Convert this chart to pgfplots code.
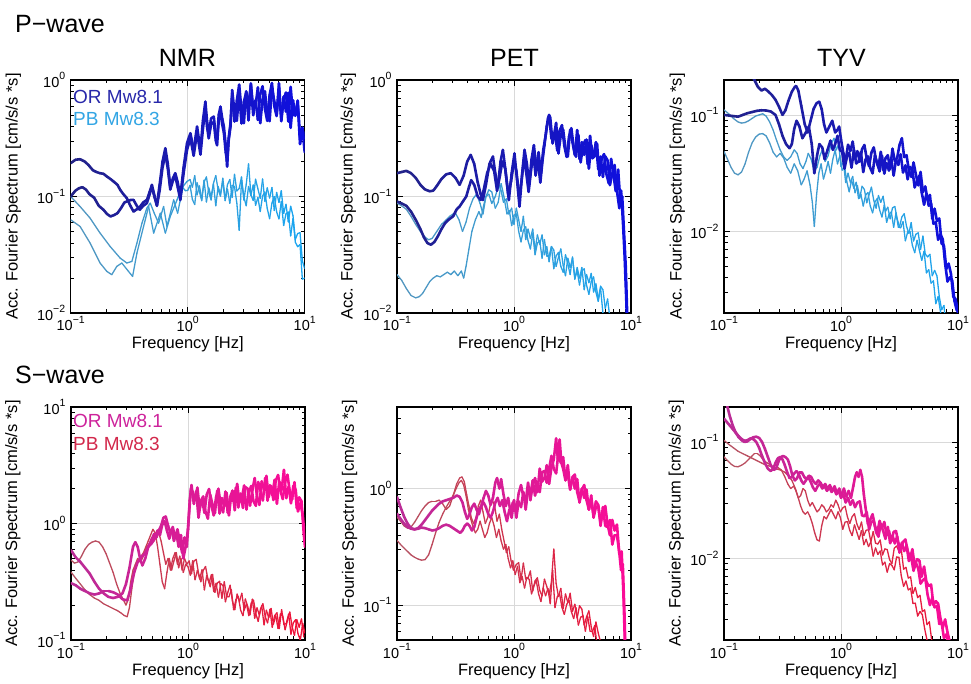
\documentclass[border=0pt]{standalone}
\usepackage{fontspec}
\setmainfont{Liberation Sans}
\usepackage{pgfplots}
\pgfplotsset{compat=1.18}
\newcommand{\sups}[1]{\raisebox{0.5em}{\fontsize{10.5}{12}\selectfont #1}}
\newcommand{\tl}[1]{10\sups{#1}}
\definecolor{legORP}{RGB}{40,40,170}
\definecolor{legPBP}{RGB}{50,165,228}
\definecolor{legORS}{RGB}{205,35,155}
\definecolor{legPBS}{RGB}{210,40,75}
\pgfplotsset{
  colormap={cmorP}{rgb255=(35,35,135) rgb255=(15,15,225)},
  colormap={cmpbP}{rgb255=(85,150,190) rgb255=(25,165,240)},
  colormap={cmorS}{rgb255=(185,45,150) rgb255=(252,10,150)},
  colormap={cmpbS}{rgb255=(180,85,100) rgb255=(240,15,55)},
  panel/.style={
    scale only axis, width=234pt, height=233pt,
    xmin=-1, xmax=1,
    xtick={-1,0,1}, xticklabels={\tl{−1},\tl{0},\tl{1}},
    minor xtick={-0.699,-0.523,-0.398,-0.301,-0.222,-0.155,-0.097,-0.046,0.301,0.477,0.602,0.699,0.778,0.845,0.903,0.954},
    minor ytick={-2.699,-2.523,-2.398,-2.301,-2.222,-2.155,-2.097,-2.046,-1.699,-1.523,-1.398,-1.301,-1.222,-1.155,-1.097,-1.046,-0.699,-0.523,-0.398,-0.301,-0.222,-0.155,-0.097,-0.046,0.301,0.477,0.602,0.699,0.778,0.845,0.903,0.954},
    grid=major, major grid style={line width=0.5pt, draw=gray!30},
    tick align=inside, major tick length=6pt, minor tick length=3.5pt,
    every tick/.style={black, line width=0.7pt},
    axis line style={line width=1.3pt},
    tick label style={font=\fontsize{14.5}{16}\selectfont},
    yticklabel style={xshift=-2pt},
    xlabel={Frequency [Hz]},
    every axis x label/.style={at={(axis description cs:0.5,0)}, anchor=base, yshift=-36pt, font=\fontsize{16.5}{18}\selectfont},
    ylabel={Acc. Fourier Spectrum [cm/s/s *s]},
    every axis y label/.style={at={(axis description cs:-0.22,0.5)}, rotate=90, anchor=center, font=\fontsize{16.5}{18}\selectfont},
    point meta min=-1, point meta max=1,
  },
  orP/.style={mesh, colormap name=cmorP, point meta=x, line width=2.6pt, line cap=round, line join=round},
  pbP/.style={mesh, colormap name=cmpbP, point meta=x, line width=1.3pt, line cap=round, line join=round},
  orS/.style={mesh, colormap name=cmorS, point meta=x, line width=2.6pt, line cap=round, line join=round},
  pbS/.style={mesh, colormap name=cmpbS, point meta=x, line width=1.3pt, line cap=round, line join=round},
}
\begin{document}
\begin{tikzpicture}[x=1pt,y=1pt]
\useasboundingbox (0,0) rectangle (971,684);
% ---------------- P-wave NMR
\begin{axis}[panel, at={(70.7pt,371pt)}, anchor=south west, ymin=-2, ymax=0,
  ytick={-2,-1,0}, yticklabels={\tl{−2},\tl{−1},\tl{0}},
  ylabel style={at={(axis description cs:-0.245,0.5)}}]
\addplot[pbP] coordinates {(-1,-1)(-0.92,-1.086)(-0.834,-1.186)(-0.749,-1.314)(-0.663,-1.429)(-0.577,-1.529)(-0.52,-1.571)(-0.477,-1.557)(-0.434,-1.4)(-0.391,-1.229)(-0.349,-1.1)(-0.32,-1.057)(-0.286,-1.143)(-0.249,-1.229)(-0.206,-1.086)(-0.177,-1.257)(-0.12,-1.029)(-0.086,-1.143)(-0.04,-0.914)(-0.006,-0.871)(0.02,-0.854)(0.04,-0.92)(0.06,-0.821)(0.08,-0.986)(0.1,-0.909)(0.12,-1.019)(0.14,-0.876)(0.16,-0.832)(0.18,-0.964)(0.2,-1.03)(0.22,-0.887)(0.24,-0.821)(0.26,-0.942)(0.28,-0.997)(0.3,-0.843)(0.32,-1.019)(0.34,-0.898)(0.36,-0.854)(0.38,-1.008)(0.4,-0.81)(0.42,-0.953)(0.44,-0.931)(0.46,-0.832)(0.48,-1.03)(0.5,-0.898)(0.52,-0.72)(0.54,-0.985)(0.56,-1.034)(0.58,-0.852)(0.6,-0.934)(0.62,-1.016)(0.64,-0.85)(0.66,-1.042)(0.68,-0.926)(0.7,-1.013)(0.72,-0.923)(0.74,-1.12)(0.76,-0.965)(0.78,-1.051)(0.8,-0.951)(0.82,-1.146)(0.84,-1.067)(0.86,-1.218)(0.88,-1.084)(0.9,-1.165)(0.92,-1.368)(0.94,-1.318)(0.96,-1.31)(0.98,-1.553)(1,-1.62)};
\addplot[pbP] coordinates {(-1,-1.2)(-0.92,-1.257)(-0.834,-1.4)(-0.749,-1.571)(-0.691,-1.643)(-0.649,-1.671)(-0.606,-1.6)(-0.563,-1.571)(-0.506,-1.643)(-0.471,-1.686)(-0.434,-1.486)(-0.377,-1.257)(-0.334,-1.086)(-0.291,-1.314)(-0.234,-1.143)(-0.191,-1.314)(-0.149,-1.171)(-0.091,-1.029)(-0.049,-0.914)(-0.02,-0.95)(0,-0.948)(0.02,-0.904)(0.04,-1.025)(0.06,-1.069)(0.08,-0.882)(0.1,-0.959)(0.12,-1.036)(0.14,-0.86)(0.16,-1.047)(0.18,-0.926)(0.2,-1.003)(0.22,-0.893)(0.24,-1.08)(0.26,-0.915)(0.28,-0.981)(0.3,-0.871)(0.32,-1.036)(0.34,-0.937)(0.36,-1.058)(0.38,-0.904)(0.4,-0.915)(0.42,-1.058)(0.44,-1.29)(0.46,-0.86)(0.48,-1.003)(0.5,-1.08)(0.52,-0.914)(0.54,-0.99)(0.56,-0.901)(0.58,-1.076)(0.6,-1.009)(0.62,-1.129)(0.64,-0.996)(0.66,-0.962)(0.68,-1.104)(0.7,-1.19)(0.72,-1.057)(0.74,-1.001)(0.76,-1.132)(0.78,-1.192)(0.8,-1.043)(0.82,-1.249)(0.84,-1.148)(0.86,-1.134)(0.88,-1.338)(0.9,-1.19)(0.92,-1.393)(0.94,-1.431)(0.96,-1.412)(0.98,-1.71)(1,-1.7)};
\addplot[orP] coordinates {(-1,-0.714)(-0.96,-0.685)(-0.92,-0.68)(-0.88,-0.7)(-0.849,-0.729)(-0.81,-0.775)(-0.78,-0.79)(-0.75,-0.8)(-0.72,-0.805)(-0.69,-0.829)(-0.66,-0.85)(-0.634,-0.871)(-0.6,-0.9)(-0.577,-0.943)(-0.55,-0.98)(-0.52,-1.014)(-0.49,-1.08)(-0.463,-1.129)(-0.435,-1.11)(-0.406,-1.086)(-0.38,-1.05)(-0.349,-1.03)(-0.325,-0.96)(-0.306,-0.9)(-0.285,-0.99)(-0.263,-1.07)(-0.24,-0.9)(-0.215,-0.7)(-0.191,-0.586)(-0.17,-0.72)(-0.149,-0.914)(-0.125,-0.84)(-0.106,-0.8)(-0.085,-0.88)(-0.063,-1)(-0.035,-0.75)(-0.006,-0.543)(0.023,-0.457)(0.051,-0.6)(0.08,-0.4)(0.109,-0.6)(0.13,-0.35)(0.151,-0.186)(0.165,-0.35)(0.18,-0.457)(0.2,-0.33)(0.223,-0.314)(0.24,-0.48)(0.251,-0.514)(0.265,-0.3)(0.28,-0.229)(0.295,-0.33)(0.309,-0.4)(0.325,-0.56)(0.337,-0.743)(0.35,-0.5)(0.366,-0.371)(0.38,-0.135)(0.4,-0.356)(0.42,-0.176)(0.44,-0.04)(0.46,-0.261)(0.48,-0.37)(0.5,-0.098)(0.52,-0.2)(0.54,-0.047)(0.56,-0.302)(0.58,-0.173)(0.6,-0.343)(0.62,-0.122)(0.64,-0.054)(0.66,-0.248)(0.68,-0.35)(0.7,-0.129)(0.72,-0.027)(0.74,-0.224)(0.76,-0.309)(0.78,-0.071)(0.8,-0.353)(0.82,-0.166)(0.84,-0.108)(0.86,-0.356)(0.88,-0.06)(0.9,-0.301)(0.92,-0.297)(0.94,-0.184)(0.96,-0.55)(0.98,-0.416)(1,-0.5)};
\addplot[orP] coordinates {(-1,-1)(-0.96,-0.95)(-0.929,-0.929)(-0.9,-0.92)(-0.87,-0.94)(-0.84,-0.98)(-0.8,-1.01)(-0.76,-1.08)(-0.72,-1.114)(-0.69,-1.15)(-0.66,-1.171)(-0.63,-1.16)(-0.6,-1.143)(-0.57,-1.1)(-0.54,-1.05)(-0.52,-1.043)(-0.49,-1.03)(-0.463,-1.029)(-0.435,-1.08)(-0.41,-1.114)(-0.38,-1.08)(-0.349,-1.057)(-0.325,-0.98)(-0.306,-0.92)(-0.285,-1)(-0.263,-1.08)(-0.24,-0.95)(-0.215,-0.75)(-0.191,-0.64)(-0.17,-0.76)(-0.149,-0.94)(-0.125,-0.86)(-0.106,-0.83)(-0.085,-0.92)(-0.063,-1.03)(-0.035,-0.8)(-0.006,-0.6)(0.023,-0.5)(0.051,-0.65)(0.08,-0.45)(0.109,-0.64)(0.13,-0.42)(0.151,-0.25)(0.165,-0.4)(0.18,-0.5)(0.2,-0.38)(0.223,-0.36)(0.24,-0.52)(0.251,-0.56)(0.265,-0.35)(0.28,-0.28)(0.295,-0.38)(0.309,-0.45)(0.325,-0.62)(0.337,-0.7)(0.35,-0.52)(0.366,-0.4)(0.38,-0.087)(0.4,-0.274)(0.42,-0.349)(0.44,-0.111)(0.46,-0.373)(0.48,-0.186)(0.5,-0.108)(0.52,-0.346)(0.54,-0.03)(0.56,-0.251)(0.58,-0.217)(0.6,-0.064)(0.62,-0.37)(0.64,-0.166)(0.66,-0.098)(0.68,-0.285)(0.7,-0.353)(0.72,-0.064)(0.74,-0.183)(0.76,-0.302)(0.78,-0.03)(0.8,-0.329)(0.82,-0.142)(0.84,-0.271)(0.86,-0.111)(0.88,-0.41)(0.9,-0.175)(0.92,-0.307)(0.94,-0.177)(0.96,-0.492)(0.98,-0.409)(1,-0.62)};
\end{axis}
% ---------------- P-wave PET
\begin{axis}[panel, at={(397pt,371pt)}, anchor=south west, ymin=-2, ymax=0,
  ytick={-2,-1,0}, yticklabels={\tl{−2},\tl{−1},\tl{0}},
  ylabel style={at={(axis description cs:-0.208,0.5)}}]
\addplot[pbP] coordinates {(-1,-1.057)(-0.96,-1.08)(-0.92,-1.11)(-0.88,-1.17)(-0.84,-1.24)(-0.8,-1.3)(-0.76,-1.35)(-0.73,-1.371)(-0.7,-1.36)(-0.66,-1.3)(-0.62,-1.24)(-0.58,-1.2)(-0.55,-1.17)(-0.52,-1.15)(-0.5,-1.143)(-0.47,-1.2)(-0.44,-1.3)(-0.41,-1.22)(-0.38,-1.1)(-0.35,-1.02)(-0.32,-0.98)(-0.29,-1.06)(-0.265,-1.15)(-0.24,-1)(-0.215,-0.943)(-0.19,-0.96)(-0.16,-1.1)(-0.135,-1.05)(-0.11,-0.89)(-0.09,-0.98)(-0.06,-1.15)(-0.04,-1.12)(-0.02,-1.25)(0,-1.16)(0.02,-1.15)(0.04,-1.3)(0.06,-1.39)(0.08,-1.29)(0.1,-1.26)(0.12,-1.38)(0.14,-1.45)(0.16,-1.32)(0.18,-1.5)(0.2,-1.4)(0.22,-1.38)(0.24,-1.53)(0.26,-1.37)(0.28,-1.51)(0.3,-1.51)(0.32,-1.43)(0.34,-1.62)(0.36,-1.51)(0.38,-1.48)(0.4,-1.6)(0.42,-1.65)(0.44,-1.5)(0.46,-1.58)(0.48,-1.67)(0.5,-1.52)(0.52,-1.71)(0.54,-1.61)(0.56,-1.7)(0.58,-1.61)(0.6,-1.8)(0.62,-1.67)(0.64,-1.74)(0.66,-1.66)(0.68,-1.82)(0.7,-1.75)(0.72,-1.88)(0.74,-1.77)(0.76,-1.8)(0.78,-1.96)(0.8,-1.88)(0.82,-2.05)};
\addplot[pbP] coordinates {(-1,-1.67)(-0.96,-1.72)(-0.92,-1.79)(-0.88,-1.85)(-0.84,-1.87)(-0.81,-1.86)(-0.78,-1.83)(-0.75,-1.78)(-0.72,-1.73)(-0.69,-1.7)(-0.66,-1.68)(-0.63,-1.69)(-0.6,-1.67)(-0.57,-1.65)(-0.54,-1.67)(-0.51,-1.64)(-0.48,-1.68)(-0.45,-1.64)(-0.43,-1.7)(-0.41,-1.6)(-0.385,-1.45)(-0.36,-1.3)(-0.33,-1.2)(-0.3,-1.13)(-0.28,-1.18)(-0.26,-1.08)(-0.24,-1)(-0.215,-0.98)(-0.19,-1.06)(-0.16,-1)(-0.13,-0.9)(-0.11,-0.95)(-0.09,-1.05)(-0.065,-1.02)(-0.045,-1.15)(-0.02,-1.1)(0,-1.24)(0.02,-1.1)(0.04,-1.2)(0.06,-1.3)(0.08,-1.17)(0.1,-1.37)(0.12,-1.28)(0.14,-1.36)(0.16,-1.28)(0.18,-1.46)(0.2,-1.33)(0.22,-1.41)(0.24,-1.33)(0.26,-1.5)(0.28,-1.43)(0.3,-1.56)(0.32,-1.43)(0.34,-1.46)(0.36,-1.6)(0.38,-1.52)(0.4,-1.45)(0.42,-1.59)(0.44,-1.68)(0.46,-1.53)(0.48,-1.61)(0.5,-1.53)(0.52,-1.7)(0.54,-1.64)(0.56,-1.76)(0.58,-1.64)(0.6,-1.62)(0.62,-1.76)(0.64,-1.84)(0.66,-1.73)(0.68,-1.69)(0.7,-1.82)(0.72,-1.9)(0.74,-1.79)(0.76,-2)(0.78,-2.1)};
\addplot[orP] coordinates {(-1,-0.8)(-0.96,-0.79)(-0.92,-0.78)(-0.88,-0.8)(-0.84,-0.84)(-0.8,-0.9)(-0.76,-0.94)(-0.72,-0.955)(-0.69,-0.95)(-0.66,-0.91)(-0.62,-0.85)(-0.58,-0.81)(-0.54,-0.8)(-0.5,-0.84)(-0.465,-0.9)(-0.43,-0.82)(-0.4,-0.7)(-0.37,-0.643)(-0.34,-0.72)(-0.31,-0.88)(-0.285,-0.98)(-0.266,-1.03)(-0.24,-0.9)(-0.21,-0.72)(-0.18,-0.657)(-0.16,-0.8)(-0.138,-0.914)(-0.115,-0.7)(-0.095,-0.6)(-0.07,-0.8)(-0.044,-1.03)(-0.02,-0.8)(0.004,-0.63)(0.025,-0.85)(0.047,-1.086)(0.07,-0.8)(0.09,-0.6)(0.11,-0.72)(0.13,-0.9)(0.15,-0.68)(0.17,-0.56)(0.19,-0.75)(0.21,-0.62)(0.23,-0.8)(0.25,-0.6)(0.27,-0.48)(0.29,-0.33)(0.3,-0.3)(0.31,-0.324)(0.33,-0.544)(0.35,-0.456)(0.37,-0.606)(0.39,-0.434)(0.41,-0.388)(0.43,-0.566)(0.45,-0.66)(0.47,-0.488)(0.49,-0.414)(0.51,-0.578)(0.53,-0.658)(0.55,-0.472)(0.57,-0.706)(0.59,-0.562)(0.61,-0.516)(0.63,-0.722)(0.65,-0.48)(0.67,-0.672)(0.69,-0.654)(0.71,-0.548)(0.73,-0.82)(0.75,-0.672)(0.77,-0.636)(0.79,-0.81)(0.81,-0.886)(0.83,-0.678)(0.85,-0.816)(0.87,-0.954)(0.89,-0.77)(0.91,-1.058)(0.925,-1)(0.94,-1.3)(0.955,-1.6)(0.97,-2.1)};
\addplot[orP] coordinates {(-1,-1.043)(-0.96,-1.06)(-0.92,-1.08)(-0.88,-1.13)(-0.84,-1.2)(-0.8,-1.28)(-0.77,-1.35)(-0.74,-1.4)(-0.71,-1.414)(-0.68,-1.39)(-0.65,-1.34)(-0.62,-1.28)(-0.59,-1.23)(-0.56,-1.2)(-0.52,-1.17)(-0.49,-1.11)(-0.465,-1.086)(-0.435,-1.04)(-0.408,-1)(-0.385,-0.92)(-0.366,-0.86)(-0.34,-0.9)(-0.31,-1)(-0.285,-1.03)(-0.26,-0.95)(-0.23,-0.8)(-0.2,-0.72)(-0.17,-0.78)(-0.145,-0.95)(-0.12,-0.82)(-0.1,-0.7)(-0.075,-0.76)(-0.05,-0.98)(-0.025,-0.87)(0,-0.7)(0.02,-0.78)(0.045,-1)(0.065,-0.86)(0.085,-0.68)(0.105,-0.8)(0.125,-0.96)(0.145,-0.78)(0.165,-0.64)(0.185,-0.82)(0.205,-0.7)(0.225,-0.88)(0.245,-0.68)(0.26,-0.56)(0.28,-0.4)(0.3,-0.31)(0.32,-0.502)(0.34,-0.484)(0.36,-0.368)(0.38,-0.63)(0.4,-0.472)(0.42,-0.426)(0.44,-0.59)(0.46,-0.656)(0.48,-0.428)(0.5,-0.536)(0.52,-0.644)(0.54,-0.43)(0.56,-0.678)(0.58,-0.534)(0.6,-0.642)(0.62,-0.512)(0.64,-0.76)(0.66,-0.56)(0.68,-0.654)(0.7,-0.534)(0.72,-0.764)(0.74,-0.658)(0.76,-0.832)(0.78,-0.656)(0.8,-0.69)(0.82,-0.902)(0.84,-0.802)(0.86,-0.73)(0.88,-0.952)(0.9,-1.1)(0.915,-0.95)(0.93,-1.2)(0.945,-1.5)(0.96,-1.9)(0.97,-2.2)};
\end{axis}
% ---------------- P-wave TYV
\begin{axis}[panel, at={(724pt,371pt)}, anchor=south west, ymin=-2.7, ymax=-0.7,
  ytick={-2,-1}, yticklabels={\tl{−2},\tl{−1}},
  ylabel style={at={(axis description cs:-0.199,0.5)}}]
\addplot[pbP] coordinates {(-1,-0.957)(-0.96,-0.99)(-0.92,-1.03)(-0.88,-1.06)(-0.85,-1.07)(-0.82,-1.065)(-0.79,-1.05)(-0.76,-1.03)(-0.73,-1.01)(-0.7,-1)(-0.67,-0.99)(-0.64,-1.01)(-0.61,-1.06)(-0.58,-1.13)(-0.55,-1.22)(-0.52,-1.3)(-0.49,-1.36)(-0.46,-1.39)(-0.43,-1.36)(-0.4,-1.3)(-0.375,-1.33)(-0.35,-1.42)(-0.325,-1.46)(-0.3,-1.4)(-0.28,-1.33)(-0.255,-1.38)(-0.23,-1.48)(-0.205,-1.45)(-0.18,-1.35)(-0.16,-1.3)(-0.135,-1.4)(-0.11,-1.35)(-0.085,-1.25)(-0.06,-1.2)(-0.04,-1.3)(-0.02,-1.25)(0,-1.444)(0.02,-1.404)(0.04,-1.58)(0.06,-1.5)(0.08,-1.578)(0.1,-1.528)(0.12,-1.668)(0.14,-1.606)(0.16,-1.714)(0.18,-1.612)(0.2,-1.64)(0.22,-1.754)(0.24,-1.684)(0.26,-1.62)(0.28,-1.734)(0.3,-1.8)(0.32,-1.692)(0.34,-1.75)(0.36,-1.698)(0.38,-1.828)(0.4,-1.792)(0.42,-1.892)(0.44,-1.798)(0.46,-1.786)(0.48,-1.892)(0.5,-1.96)(0.52,-1.876)(0.54,-1.848)(0.56,-1.956)(0.58,-2.016)(0.6,-1.924)(0.62,-2.082)(0.64,-2.024)(0.66,-2.012)(0.68,-2.154)(0.7,-2.04)(0.72,-2.194)(0.74,-2.218)(0.76,-2.196)(0.78,-2.38)(0.8,-2.334)(0.82,-2.382)(0.84,-2.56)(0.86,-2.672)(0.88,-2.636)(0.9,-2.85)};
\addplot[pbP] coordinates {(-1,-1.314)(-0.97,-1.38)(-0.94,-1.45)(-0.91,-1.5)(-0.88,-1.514)(-0.85,-1.49)(-0.82,-1.42)(-0.79,-1.32)(-0.76,-1.24)(-0.73,-1.19)(-0.7,-1.165)(-0.67,-1.16)(-0.64,-1.18)(-0.61,-1.24)(-0.58,-1.32)(-0.55,-1.36)(-0.52,-1.33)(-0.49,-1.37)(-0.46,-1.45)(-0.43,-1.5)(-0.4,-1.42)(-0.37,-1.48)(-0.34,-1.6)(-0.315,-1.55)(-0.29,-1.48)(-0.265,-1.6)(-0.245,-1.75)(-0.228,-1.957)(-0.21,-1.7)(-0.19,-1.5)(-0.17,-1.42)(-0.15,-1.55)(-0.13,-1.48)(-0.11,-1.4)(-0.09,-1.5)(-0.07,-1.38)(-0.05,-1.3)(-0.03,-1.42)(-0.01,-1.35)(0.01,-1.474)(0.03,-1.44)(0.05,-1.574)(0.07,-1.66)(0.09,-1.562)(0.11,-1.63)(0.13,-1.578)(0.15,-1.718)(0.17,-1.682)(0.19,-1.782)(0.21,-1.688)(0.23,-1.666)(0.25,-1.782)(0.27,-1.84)(0.29,-1.746)(0.31,-1.718)(0.33,-1.816)(0.35,-1.876)(0.37,-1.774)(0.39,-1.922)(0.41,-1.854)(0.43,-1.832)(0.45,-1.964)(0.47,-1.84)(0.49,-1.964)(0.51,-1.968)(0.53,-1.916)(0.55,-2.08)(0.57,-2.004)(0.59,-2.002)(0.61,-2.12)(0.63,-2.182)(0.65,-2.076)(0.67,-2.162)(0.69,-2.248)(0.71,-2.17)(0.73,-2.356)(0.75,-2.328)(0.77,-2.444)(0.79,-2.424)(0.81,-2.62)(0.83,-2.56)(0.85,-2.688)(0.87,-2.8)};
\addplot[orP] coordinates {(-0.78,-0.62)(-0.74,-0.7)(-0.71,-0.76)(-0.68,-0.79)(-0.65,-0.775)(-0.62,-0.8)(-0.59,-0.83)(-0.56,-0.87)(-0.53,-0.93)(-0.5,-1)(-0.475,-0.96)(-0.45,-0.88)(-0.42,-0.8)(-0.395,-0.76)(-0.384,-0.751)(-0.365,-0.79)(-0.34,-0.92)(-0.31,-1.08)(-0.285,-1.15)(-0.26,-1.05)(-0.235,-0.95)(-0.21,-0.9)(-0.186,-0.886)(-0.165,-0.95)(-0.145,-1.08)(-0.125,-1.15)(-0.1,-1.1)(-0.075,-1.05)(-0.05,-1.15)(-0.03,-1.13)(-0.016,-1.1)(0,-1.21)(0.02,-1.327)(0.04,-1.39)(0.06,-1.256)(0.08,-1.31)(0.1,-1.229)(0.12,-1.374)(0.14,-1.311)(0.16,-1.401)(0.18,-1.294)(0.2,-1.258)(0.22,-1.376)(0.24,-1.44)(0.26,-1.323)(0.28,-1.279)(0.3,-1.388)(0.32,-1.443)(0.34,-1.317)(0.36,-1.471)(0.38,-1.372)(0.4,-1.346)(0.42,-1.462)(0.44,-1.29)(0.46,-1.397)(0.48,-1.369)(0.5,-1.258)(0.52,-1.2)(0.54,-1.362)(0.56,-1.346)(0.58,-1.475)(0.6,-1.531)(0.62,-1.408)(0.64,-1.511)(0.66,-1.604)(0.68,-1.49)(0.7,-1.663)(0.72,-1.614)(0.74,-1.727)(0.76,-1.687)(0.78,-1.89)(0.8,-1.805)(0.82,-1.909)(0.84,-1.889)(0.86,-2.104)(0.88,-2.123)(0.9,-2.322)(0.92,-2.276)(0.94,-2.365)(0.96,-2.562)(0.98,-2.582)(1,-2.7)};
\addplot[orP] coordinates {(-1,-1)(-0.96,-1.005)(-0.92,-1.01)(-0.88,-1.015)(-0.84,-1)(-0.8,-0.985)(-0.76,-0.975)(-0.72,-0.965)(-0.68,-0.96)(-0.64,-0.962)(-0.6,-0.97)(-0.56,-1)(-0.53,-1.08)(-0.5,-1.18)(-0.47,-1.25)(-0.44,-1.286)(-0.42,-1.25)(-0.4,-1.12)(-0.38,-1.05)(-0.355,-1.1)(-0.33,-1.2)(-0.3,-1.15)(-0.275,-1.1)(-0.25,-1.25)(-0.228,-1.5)(-0.205,-1.35)(-0.185,-1.25)(-0.16,-1.28)(-0.14,-1.38)(-0.115,-1.3)(-0.09,-1.22)(-0.07,-1.3)(-0.05,-1.25)(-0.03,-1.18)(-0.01,-1.3)(0.01,-1.317)(0.03,-1.461)(0.05,-1.362)(0.07,-1.326)(0.09,-1.452)(0.11,-1.3)(0.13,-1.417)(0.15,-1.399)(0.17,-1.318)(0.19,-1.49)(0.21,-1.382)(0.23,-1.356)(0.25,-1.455)(0.27,-1.501)(0.29,-1.348)(0.31,-1.421)(0.33,-1.484)(0.35,-1.35)(0.37,-1.503)(0.39,-1.414)(0.41,-1.477)(0.43,-1.377)(0.45,-1.52)(0.47,-1.385)(0.49,-1.429)(0.51,-1.339)(0.53,-1.494)(0.55,-1.433)(0.57,-1.552)(0.59,-1.446)(0.61,-1.475)(0.63,-1.622)(0.65,-1.562)(0.67,-1.52)(0.69,-1.667)(0.71,-1.77)(0.73,-1.676)(0.75,-1.78)(0.77,-1.759)(0.79,-1.934)(0.81,-1.921)(0.83,-2.071)(0.85,-2.024)(0.87,-2.068)(0.89,-2.276)(0.91,-2.43)(0.93,-2.393)(0.95,-2.419)(0.97,-2.598)(0.99,-2.68)};
\end{axis}
% ---------------- S-wave NMR
\begin{axis}[panel, at={(71pt,44pt)}, anchor=south west, ymin=-1, ymax=1,
  ytick={-1,0,1}, yticklabels={\tl{−1},\tl{0},\tl{1}},
  ylabel style={at={(axis description cs:-0.249,0.5)}}]
\addplot[pbS] coordinates {(-1,-0.314)(-0.97,-0.34)(-0.94,-0.33)(-0.91,-0.28)(-0.88,-0.22)(-0.85,-0.18)(-0.82,-0.16)(-0.79,-0.15)(-0.76,-0.16)(-0.73,-0.2)(-0.7,-0.26)(-0.67,-0.34)(-0.64,-0.42)(-0.61,-0.52)(-0.58,-0.6)(-0.555,-0.65)(-0.53,-0.7)(-0.51,-0.65)(-0.49,-0.5)(-0.47,-0.4)(-0.45,-0.35)(-0.43,-0.3)(-0.41,-0.33)(-0.39,-0.3)(-0.37,-0.25)(-0.35,-0.2)(-0.33,-0.17)(-0.31,-0.12)(-0.29,-0.15)(-0.27,-0.1)(-0.25,-0.08)(-0.23,-0.15)(-0.21,-0.25)(-0.19,-0.35)(-0.17,-0.3)(-0.15,-0.4)(-0.13,-0.3)(-0.11,-0.25)(-0.09,-0.35)(-0.07,-0.28)(-0.05,-0.4)(-0.03,-0.3)(-0.01,-0.35)(0.01,-0.321)(0.03,-0.431)(0.05,-0.324)(0.07,-0.308)(0.09,-0.426)(0.11,-0.5)(0.13,-0.403)(0.15,-0.369)(0.17,-0.478)(0.19,-0.543)(0.21,-0.437)(0.23,-0.591)(0.25,-0.512)(0.27,-0.496)(0.29,-0.642)(0.31,-0.5)(0.33,-0.627)(0.35,-0.629)(0.37,-0.568)(0.39,-0.74)(0.41,-0.652)(0.43,-0.626)(0.45,-0.745)(0.47,-0.791)(0.49,-0.648)(0.51,-0.711)(0.53,-0.784)(0.55,-0.65)(0.57,-0.813)(0.59,-0.724)(0.61,-0.787)(0.63,-0.707)(0.65,-0.87)(0.67,-0.745)(0.69,-0.809)(0.71,-0.729)(0.73,-0.864)(0.75,-0.793)(0.77,-0.902)(0.79,-0.776)(0.81,-0.795)(0.83,-0.912)(0.85,-0.832)(0.87,-0.76)(0.89,-0.887)(0.91,-0.96)(0.93,-0.826)(0.95,-0.89)(0.97,-0.819)(0.99,-0.974)};
\addplot[pbS] coordinates {(-1,-0.417)(-0.96,-0.47)(-0.92,-0.52)(-0.88,-0.57)(-0.84,-0.61)(-0.8,-0.64)(-0.76,-0.66)(-0.72,-0.69)(-0.68,-0.71)(-0.64,-0.73)(-0.6,-0.75)(-0.57,-0.77)(-0.545,-0.79)(-0.52,-0.8)(-0.5,-0.72)(-0.48,-0.56)(-0.46,-0.42)(-0.44,-0.35)(-0.42,-0.32)(-0.4,-0.28)(-0.38,-0.25)(-0.36,-0.2)(-0.34,-0.15)(-0.32,-0.1)(-0.3,-0.05)(-0.28,-0.08)(-0.26,-0.2)(-0.24,-0.35)(-0.22,-0.5)(-0.2,-0.56)(-0.18,-0.42)(-0.16,-0.3)(-0.14,-0.4)(-0.12,-0.32)(-0.1,-0.25)(-0.08,-0.38)(-0.06,-0.3)(-0.04,-0.42)(-0.02,-0.35)(0,-0.371)(0.02,-0.444)(0.04,-0.32)(0.06,-0.483)(0.08,-0.404)(0.1,-0.477)(0.12,-0.397)(0.14,-0.57)(0.16,-0.445)(0.18,-0.509)(0.2,-0.439)(0.22,-0.584)(0.24,-0.513)(0.26,-0.632)(0.28,-0.516)(0.3,-0.535)(0.32,-0.672)(0.34,-0.592)(0.36,-0.53)(0.38,-0.667)(0.4,-0.74)(0.42,-0.606)(0.44,-0.67)(0.46,-0.599)(0.48,-0.744)(0.5,-0.691)(0.52,-0.791)(0.54,-0.684)(0.56,-0.658)(0.58,-0.776)(0.6,-0.84)(0.62,-0.733)(0.64,-0.689)(0.66,-0.798)(0.68,-0.853)(0.7,-0.737)(0.72,-0.891)(0.74,-0.792)(0.76,-0.766)(0.78,-0.902)(0.8,-0.74)(0.82,-0.867)(0.84,-0.859)(0.86,-0.778)(0.88,-0.95)(0.9,-0.852)(0.92,-0.826)(0.94,-0.945)(0.96,-1.001)(0.98,-0.858)(1,-0.941)};
\addplot[orS] coordinates {(-1,-0.229)(-0.96,-0.29)(-0.92,-0.33)(-0.88,-0.38)(-0.84,-0.43)(-0.8,-0.5)(-0.76,-0.56)(-0.72,-0.6)(-0.68,-0.63)(-0.64,-0.64)(-0.6,-0.63)(-0.56,-0.6)(-0.53,-0.52)(-0.5,-0.38)(-0.47,-0.2)(-0.45,-0.16)(-0.43,-0.2)(-0.41,-0.3)(-0.39,-0.36)(-0.365,-0.3)(-0.34,-0.2)(-0.315,-0.15)(-0.29,-0.09)(-0.27,-0.12)(-0.25,-0.06)(-0.23,-0.02)(-0.21,0.05)(-0.19,0.06)(-0.17,-0.02)(-0.15,-0.08)(-0.13,-0.03)(-0.11,-0.12)(-0.09,-0.05)(-0.07,-0.15)(-0.05,-0.25)(-0.03,-0.12)(-0.01,-0.2)(0.01,0.1)(0.025,0.3)(0.04,0.272)(0.06,0.2)(0.08,0.308)(0.1,0.128)(0.12,0.212)(0.14,0.092)(0.16,0.248)(0.18,0.296)(0.2,0.152)(0.22,0.07)(0.24,0.226)(0.26,0.298)(0.28,0.156)(0.3,0.096)(0.32,0.274)(0.34,0.092)(0.36,0.224)(0.38,0.282)(0.4,0.114)(0.42,0.34)(0.44,0.184)(0.46,0.218)(0.48,0.326)(0.5,0.12)(0.52,0.264)(0.54,0.322)(0.56,0.19)(0.58,0.152)(0.6,0.356)(0.62,0.282)(0.64,0.198)(0.66,0.39)(0.68,0.196)(0.7,0.328)(0.72,0.244)(0.74,0.374)(0.76,0.17)(0.78,0.36)(0.8,0.288)(0.82,0.46)(0.84,0.218)(0.86,0.316)(0.88,0.174)(0.9,0.322)(0.92,0.29)(0.94,0.104)(0.96,0.174)(0.98,0.08)(1,-0.15)};
\addplot[orS] coordinates {(-1,-0.512)(-0.96,-0.53)(-0.92,-0.56)(-0.88,-0.58)(-0.84,-0.6)(-0.8,-0.61)(-0.76,-0.6)(-0.72,-0.58)(-0.68,-0.58)(-0.64,-0.59)(-0.6,-0.61)(-0.56,-0.65)(-0.52,-0.66)(-0.49,-0.56)(-0.46,-0.42)(-0.43,-0.33)(-0.4,-0.29)(-0.37,-0.26)(-0.34,-0.2)(-0.31,-0.17)(-0.285,-0.13)(-0.26,-0.06)(-0.24,-0.1)(-0.22,-0.01)(-0.2,0.02)(-0.18,-0.06)(-0.16,-0.13)(-0.14,-0.05)(-0.12,-0.15)(-0.1,-0.08)(-0.08,-0.2)(-0.06,-0.1)(-0.04,-0.3)(-0.02,-0.2)(0,-0.05)(0.015,0.2)(0.03,0.33)(0.05,0.168)(0.07,0.276)(0.09,0.05)(0.11,0.194)(0.13,0.232)(0.15,0.1)(0.17,0.042)(0.19,0.246)(0.21,0.162)(0.23,0.088)(0.25,0.28)(0.27,0.086)(0.29,0.218)(0.31,0.144)(0.33,0.264)(0.35,0.07)(0.37,0.25)(0.39,0.188)(0.41,0.308)(0.43,0.138)(0.45,0.256)(0.47,0.134)(0.49,0.312)(0.51,0.3)(0.53,0.154)(0.55,0.284)(0.57,0.39)(0.59,0.234)(0.61,0.16)(0.63,0.362)(0.65,0.29)(0.67,0.408)(0.69,0.228)(0.71,0.322)(0.73,0.202)(0.75,0.368)(0.77,0.416)(0.79,0.282)(0.81,0.21)(0.83,0.356)(0.85,0.418)(0.87,0.276)(0.89,0.206)(0.91,0.354)(0.93,0.132)(0.95,0.224)(0.97,0.192)(0.99,-0.096)(1,-0.2)};
\end{axis}
% ---------------- S-wave PET
\begin{axis}[panel, at={(397pt,44pt)}, anchor=south west, ymin=-1.3, ymax=0.7,
  ytick={-1,0}, yticklabels={\tl{−1},\tl{0}},
  ylabel style={at={(axis description cs:-0.203,0.5)}}]
\addplot[pbS] coordinates {(-1,-0.244)(-0.97,-0.28)(-0.94,-0.32)(-0.91,-0.34)(-0.88,-0.33)(-0.85,-0.29)(-0.82,-0.24)(-0.79,-0.19)(-0.76,-0.15)(-0.73,-0.12)(-0.7,-0.11)(-0.67,-0.11)(-0.64,-0.1)(-0.61,-0.13)(-0.58,-0.18)(-0.55,-0.15)(-0.52,-0.06)(-0.49,0.04)(-0.465,0.09)(-0.445,0.1)(-0.425,0.06)(-0.405,-0.05)(-0.385,-0.15)(-0.365,-0.25)(-0.345,-0.3)(-0.325,-0.25)(-0.305,-0.15)(-0.285,-0.1)(-0.265,-0.2)(-0.245,-0.3)(-0.225,-0.25)(-0.205,-0.15)(-0.185,-0.1)(-0.165,-0.15)(-0.145,-0.28)(-0.125,-0.22)(-0.105,-0.35)(-0.085,-0.45)(-0.065,-0.55)(-0.045,-0.5)(-0.025,-0.62)(-0.005,-0.7)(0.02,-0.652)(0.04,-0.636)(0.06,-0.782)(0.08,-0.64)(0.1,-0.777)(0.12,-0.769)(0.14,-0.708)(0.16,-0.88)(0.18,-0.792)(0.2,-0.766)(0.22,-0.875)(0.24,-0.921)(0.26,-0.778)(0.28,-0.841)(0.3,-0.914)(0.32,-0.8)(0.34,-0.52)(0.36,-0.814)(0.38,-0.927)(0.4,-0.857)(0.42,-1.03)(0.44,-0.905)(0.46,-0.979)(0.48,-0.899)(0.5,-1.054)(0.52,-0.993)(0.54,-1.112)(0.56,-1.006)(0.58,-1.035)(0.6,-1.172)(0.62,-1.102)(0.64,-1.05)(0.66,-1.187)(0.68,-1.27)(0.7,-1.146)(0.72,-1.24)(0.74,-1.32)};
\addplot[pbS] coordinates {(-1,-0.445)(-0.97,-0.48)(-0.94,-0.51)(-0.91,-0.54)(-0.88,-0.57)(-0.85,-0.59)(-0.82,-0.605)(-0.79,-0.615)(-0.76,-0.61)(-0.73,-0.57)(-0.7,-0.48)(-0.67,-0.38)(-0.64,-0.29)(-0.61,-0.22)(-0.58,-0.16)(-0.55,-0.11)(-0.52,-0.06)(-0.495,0)(-0.47,0.05)(-0.45,0.07)(-0.43,0.03)(-0.41,-0.06)(-0.39,-0.18)(-0.37,-0.26)(-0.35,-0.33)(-0.33,-0.38)(-0.31,-0.35)(-0.29,-0.28)(-0.27,-0.35)(-0.25,-0.42)(-0.23,-0.38)(-0.21,-0.3)(-0.19,-0.25)(-0.17,-0.32)(-0.15,-0.42)(-0.13,-0.35)(-0.11,-0.45)(-0.09,-0.52)(-0.07,-0.48)(-0.05,-0.6)(-0.03,-0.68)(-0.01,-0.62)(0.01,-0.738)(0.03,-0.668)(0.05,-0.808)(0.07,-0.756)(0.09,-0.854)(0.11,-0.762)(0.13,-0.78)(0.15,-0.904)(0.17,-0.834)(0.19,-0.79)(0.21,-0.904)(0.23,-0.97)(0.25,-0.852)(0.27,-0.92)(0.29,-0.858)(0.31,-0.988)(0.33,-0.7)(0.35,-1.022)(0.37,-0.928)(0.39,-0.906)(0.41,-1.022)(0.43,-1.08)(0.45,-0.996)(0.47,-0.958)(0.49,-1.056)(0.51,-1.116)(0.53,-1.024)(0.55,-1.172)(0.57,-1.104)(0.59,-1.092)(0.61,-1.224)(0.63,-1.1)(0.65,-1.224)(0.67,-1.228)(0.69,-1.176)(0.71,-1.35)(0.73,-1.36)};
\addplot[orS] coordinates {(-1,-0.072)(-0.97,-0.16)(-0.94,-0.24)(-0.91,-0.3)(-0.88,-0.34)(-0.85,-0.35)(-0.82,-0.34)(-0.79,-0.31)(-0.76,-0.27)(-0.73,-0.23)(-0.7,-0.19)(-0.67,-0.16)(-0.64,-0.13)(-0.61,-0.11)(-0.58,-0.1)(-0.55,-0.09)(-0.52,-0.08)(-0.49,-0.06)(-0.465,-0.07)(-0.44,-0.12)(-0.42,-0.2)(-0.4,-0.26)(-0.38,-0.22)(-0.36,-0.16)(-0.34,-0.13)(-0.32,-0.18)(-0.3,-0.22)(-0.28,-0.15)(-0.26,-0.08)(-0.24,-0.02)(-0.22,-0.06)(-0.2,-0.14)(-0.18,-0.08)(-0.16,0.05)(-0.145,0.09)(-0.125,0)(-0.11,0.08)(-0.09,-0.05)(-0.07,-0.15)(-0.05,-0.08)(-0.03,-0.2)(-0.01,-0.12)(0.02,-0.18)(0.04,-0.04)(0.06,0.03)(0.08,-0.07)(0.1,-0.11)(0.12,0.05)(0.14,-0.1)(0.16,0.03)(0.18,0.09)(0.2,-0.03)(0.22,0.17)(0.24,0.06)(0.26,0.09)(0.28,0.2)(0.3,0.04)(0.32,0.18)(0.34,0.25)(0.36,0.43)(0.375,0.25)(0.39,0.42)(0.405,0.22)(0.42,0.17)(0.44,0.07)(0.46,0.2)(0.48,0)(0.5,0.09)(0.52,0)(0.54,0.08)(0.56,-0.12)(0.58,0)(0.6,-0.08)(0.62,-0.01)(0.64,-0.18)(0.66,-0.1)(0.68,-0.23)(0.7,-0.11)(0.72,-0.14)(0.74,-0.29)(0.76,-0.21)(0.78,-0.15)(0.8,-0.31)(0.82,-0.4)(0.84,-0.27)(0.86,-0.36)(0.88,-0.31)(0.9,-0.56)(0.92,-0.54)(0.935,-0.9)(0.95,-1.4)};
\addplot[orS] coordinates {(-1,-0.216)(-0.97,-0.26)(-0.94,-0.3)(-0.91,-0.33)(-0.88,-0.345)(-0.85,-0.35)(-0.82,-0.345)(-0.79,-0.335)(-0.76,-0.34)(-0.73,-0.35)(-0.7,-0.36)(-0.67,-0.355)(-0.64,-0.34)(-0.61,-0.32)(-0.58,-0.31)(-0.55,-0.32)(-0.52,-0.34)(-0.49,-0.36)(-0.46,-0.38)(-0.44,-0.36)(-0.42,-0.32)(-0.4,-0.3)(-0.38,-0.32)(-0.36,-0.36)(-0.34,-0.33)(-0.32,-0.25)(-0.3,-0.18)(-0.28,-0.15)(-0.26,-0.12)(-0.24,-0.16)(-0.22,-0.22)(-0.2,-0.25)(-0.18,-0.2)(-0.16,-0.12)(-0.14,-0.08)(-0.12,-0.15)(-0.1,-0.1)(-0.08,-0.2)(-0.06,-0.28)(-0.04,-0.18)(-0.02,-0.25)(0,-0.1)(0.02,-0.25)(0.04,-0.11)(0.06,-0.16)(0.08,-0.03)(0.1,-0.18)(0.12,-0.01)(0.14,-0.05)(0.16,0.07)(0.18,-0.06)(0.2,0.05)(0.22,-0.03)(0.24,0.14)(0.26,0.15)(0.28,0.05)(0.3,0.17)(0.32,0.28)(0.34,0.17)(0.36,0.13)(0.38,0.31)(0.4,0.22)(0.42,0.27)(0.44,0.08)(0.46,0.12)(0.48,-0.01)(0.5,0.1)(0.52,0.12)(0.54,-0.03)(0.56,-0.11)(0.58,-0.01)(0.6,0.03)(0.62,-0.1)(0.64,-0.18)(0.66,-0.06)(0.68,-0.25)(0.7,-0.16)(0.72,-0.15)(0.74,-0.32)(0.76,-0.16)(0.78,-0.32)(0.8,-0.33)(0.82,-0.27)(0.84,-0.48)(0.86,-0.4)(0.88,-0.4)(0.9,-0.55)(0.915,-0.7)(0.93,-0.65)(0.945,-1.1)(0.955,-1.5)};
\end{axis}
% ---------------- S-wave TYV
\begin{axis}[panel, at={(724pt,44pt)}, anchor=south west, ymin=-2.7, ymax=-0.7,
  ytick={-2,-1}, yticklabels={\tl{−2},\tl{−1}},
  ylabel style={at={(axis description cs:-0.204,0.5)}}]
\addplot[pbS] coordinates {(-1,-0.986)(-0.96,-1.02)(-0.92,-1.05)(-0.88,-1.08)(-0.84,-1.1)(-0.8,-1.12)(-0.76,-1.14)(-0.72,-1.16)(-0.68,-1.18)(-0.64,-1.2)(-0.6,-1.21)(-0.56,-1.23)(-0.52,-1.24)(-0.48,-1.26)(-0.45,-1.29)(-0.42,-1.33)(-0.39,-1.4)(-0.365,-1.48)(-0.345,-1.46)(-0.325,-1.4)(-0.305,-1.42)(-0.285,-1.5)(-0.265,-1.55)(-0.245,-1.52)(-0.225,-1.56)(-0.205,-1.6)(-0.185,-1.58)(-0.165,-1.54)(-0.145,-1.56)(-0.125,-1.6)(-0.105,-1.58)(-0.085,-1.54)(-0.065,-1.56)(-0.045,-1.5)(-0.025,-1.54)(-0.005,-1.6)(0.015,-1.566)(0.035,-1.552)(0.055,-1.644)(0.075,-1.7)(0.095,-1.642)(0.115,-1.616)(0.135,-1.702)(0.155,-1.752)(0.175,-1.688)(0.195,-1.804)(0.215,-1.758)(0.235,-1.754)(0.255,-1.858)(0.275,-1.77)(0.295,-1.868)(0.315,-1.876)(0.335,-1.842)(0.355,-1.97)(0.375,-1.918)(0.395,-1.924)(0.415,-2.01)(0.435,-2.044)(0.455,-1.912)(0.475,-1.894)(0.495,-1.936)(0.515,-1.92)(0.535,-2.092)(0.555,-2.076)(0.575,-2.168)(0.595,-2.158)(0.615,-2.3)(0.635,-2.25)(0.655,-2.336)(0.675,-2.316)(0.695,-2.456)(0.715,-2.442)(0.735,-2.568)(0.755,-2.544)(0.775,-2.7)};
\addplot[pbS] coordinates {(-1,-1.128)(-0.97,-1.16)(-0.94,-1.19)(-0.91,-1.21)(-0.88,-1.213)(-0.85,-1.2)(-0.82,-1.18)(-0.79,-1.15)(-0.76,-1.12)(-0.74,-1.1)(-0.715,-1.1)(-0.69,-1.12)(-0.66,-1.16)(-0.63,-1.18)(-0.6,-1.2)(-0.57,-1.22)(-0.54,-1.22)(-0.51,-1.24)(-0.48,-1.3)(-0.455,-1.36)(-0.43,-1.4)(-0.405,-1.38)(-0.385,-1.42)(-0.365,-1.48)(-0.345,-1.55)(-0.325,-1.6)(-0.305,-1.62)(-0.285,-1.6)(-0.265,-1.64)(-0.245,-1.7)(-0.225,-1.78)(-0.205,-1.84)(-0.185,-1.85)(-0.165,-1.72)(-0.145,-1.64)(-0.125,-1.66)(-0.105,-1.62)(-0.085,-1.58)(-0.065,-1.62)(-0.045,-1.66)(-0.025,-1.6)(-0.005,-1.65)(0.015,-1.75)(0.035,-1.688)(0.055,-1.684)(0.075,-1.76)(0.095,-1.804)(0.115,-1.712)(0.135,-1.774)(0.155,-1.836)(0.175,-1.76)(0.195,-1.882)(0.215,-1.836)(0.235,-1.898)(0.255,-1.858)(0.275,-1.98)(0.295,-1.91)(0.315,-1.966)(0.335,-1.936)(0.355,-2.056)(0.375,-2.032)(0.395,-2.118)(0.415,-2.044)(0.435,-2.06)(0.455,-2.098)(0.475,-1.988)(0.495,-1.99)(0.515,-2.148)(0.535,-2.24)(0.555,-2.194)(0.575,-2.27)(0.595,-2.256)(0.615,-2.386)(0.635,-2.384)(0.655,-2.494)(0.675,-2.456)(0.695,-2.482)(0.715,-2.604)(0.735,-2.7)(0.755,-2.76)};
\addplot[orS] coordinates {(-1,-0.55)(-0.975,-0.68)(-0.95,-0.78)(-0.925,-0.86)(-0.9,-0.92)(-0.875,-0.96)(-0.85,-0.985)(-0.825,-1)(-0.8,-0.995)(-0.775,-0.975)(-0.75,-0.96)(-0.725,-0.955)(-0.7,-0.965)(-0.675,-1)(-0.65,-1.06)(-0.625,-1.13)(-0.6,-1.2)(-0.575,-1.24)(-0.555,-1.23)(-0.535,-1.17)(-0.515,-1.13)(-0.495,-1.12)(-0.475,-1.13)(-0.455,-1.15)(-0.435,-1.21)(-0.415,-1.29)(-0.395,-1.33)(-0.375,-1.31)(-0.355,-1.26)(-0.335,-1.26)(-0.315,-1.3)(-0.295,-1.32)(-0.275,-1.29)(-0.255,-1.3)(-0.235,-1.34)(-0.215,-1.36)(-0.195,-1.33)(-0.175,-1.35)(-0.155,-1.39)(-0.135,-1.36)(-0.115,-1.4)(-0.095,-1.37)(-0.075,-1.42)(-0.055,-1.38)(-0.035,-1.44)(-0.015,-1.4)(0.005,-1.46)(0.025,-1.4)(0.045,-1.47)(0.065,-1.42)(0.085,-1.48)(0.105,-1.38)(0.12,-1.3)(0.135,-1.26)(0.15,-1.3)(0.165,-1.24)(0.18,-1.3)(0.195,-1.45)(0.21,-1.565)(0.23,-1.706)(0.25,-1.666)(0.27,-1.62)(0.29,-1.721)(0.31,-1.78)(0.33,-1.678)(0.35,-1.74)(0.37,-1.687)(0.39,-1.802)(0.41,-1.763)(0.43,-1.853)(0.45,-1.772)(0.47,-1.764)(0.49,-1.868)(0.51,-1.93)(0.53,-1.859)(0.55,-1.837)(0.57,-1.934)(0.59,-1.999)(0.61,-1.921)(0.63,-2.063)(0.65,-2.006)(0.67,-2.018)(0.69,-2.156)(0.71,-2.07)(0.73,-2.201)(0.75,-2.237)(0.77,-2.224)(0.79,-2.4)(0.81,-2.366)(0.83,-2.388)(0.85,-2.515)(0.87,-2.593)(0.89,-2.524)(0.91,-2.633)(0.93,-2.72)};
\addplot[orS] coordinates {(-1,-0.8)(-0.975,-0.83)(-0.95,-0.86)(-0.925,-0.89)(-0.9,-0.92)(-0.875,-0.95)(-0.85,-0.975)(-0.825,-0.99)(-0.8,-0.985)(-0.775,-0.97)(-0.75,-0.975)(-0.725,-1)(-0.7,-1.05)(-0.675,-1.12)(-0.65,-1.18)(-0.625,-1.23)(-0.6,-1.25)(-0.58,-1.23)(-0.56,-1.18)(-0.54,-1.14)(-0.52,-1.13)(-0.5,-1.15)(-0.48,-1.2)(-0.46,-1.26)(-0.44,-1.31)(-0.42,-1.3)(-0.4,-1.27)(-0.38,-1.25)(-0.36,-1.28)(-0.34,-1.33)(-0.32,-1.36)(-0.3,-1.33)(-0.28,-1.3)(-0.26,-1.34)(-0.24,-1.39)(-0.22,-1.42)(-0.2,-1.38)(-0.18,-1.36)(-0.16,-1.4)(-0.14,-1.38)(-0.12,-1.42)(-0.1,-1.39)(-0.08,-1.43)(-0.06,-1.4)(-0.04,-1.45)(-0.02,-1.42)(0,-1.48)(0.02,-1.45)(0.04,-1.52)(0.06,-1.48)(0.08,-1.54)(0.1,-1.5)(0.12,-1.56)(0.14,-1.52)(0.16,-1.51)(0.18,-1.631)(0.2,-1.637)(0.22,-1.604)(0.24,-1.75)(0.26,-1.686)(0.28,-1.678)(0.3,-1.775)(0.32,-1.813)(0.34,-1.704)(0.36,-1.763)(0.38,-1.832)(0.4,-1.73)(0.42,-1.869)(0.44,-1.802)(0.46,-1.871)(0.48,-1.811)(0.5,-1.95)(0.52,-1.865)(0.54,-1.937)(0.56,-1.887)(0.58,-2.022)(0.6,-1.989)(0.62,-2.106)(0.64,-2.038)(0.66,-2.085)(0.68,-2.216)(0.7,-2.186)(0.72,-2.17)(0.74,-2.311)(0.76,-2.4)(0.78,-2.338)(0.8,-2.42)(0.82,-2.407)(0.84,-2.562)(0.86,-2.553)(0.88,-2.683)(0.9,-2.652)(0.92,-2.76)};
\end{axis}
% ---------------- titles and legends
\node[anchor=base west, inner sep=0, font=\fontsize{25}{28}\selectfont] at (15,651) {P−wave};
\node[anchor=base west, inner sep=0, font=\fontsize{25}{28}\selectfont] at (15,300) {S−wave};
\node[anchor=base, inner sep=0, font=\fontsize{25}{28}\selectfont] at (187.4,617) {NMR};
\node[anchor=base, inner sep=0, font=\fontsize{25}{28}\selectfont] at (514.5,617) {PET};
\node[anchor=base, inner sep=0, font=\fontsize{25}{28}\selectfont] at (841.5,617) {TYV};
\node[anchor=base west, inner sep=0, font=\fontsize{19}{22}\selectfont, text=legORP] at (73,580) {OR Mw8.1};
\node[anchor=base west, inner sep=0, font=\fontsize{19}{22}\selectfont, text=legPBP] at (73,558) {PB Mw8.3};
\node[anchor=base west, inner sep=0, font=\fontsize{19}{22}\selectfont, text=legORS] at (73,256) {OR Mw8.1};
\node[anchor=base west, inner sep=0, font=\fontsize{19}{22}\selectfont, text=legPBS] at (73,233.5) {PB Mw8.3};
\end{tikzpicture}
\end{document}
